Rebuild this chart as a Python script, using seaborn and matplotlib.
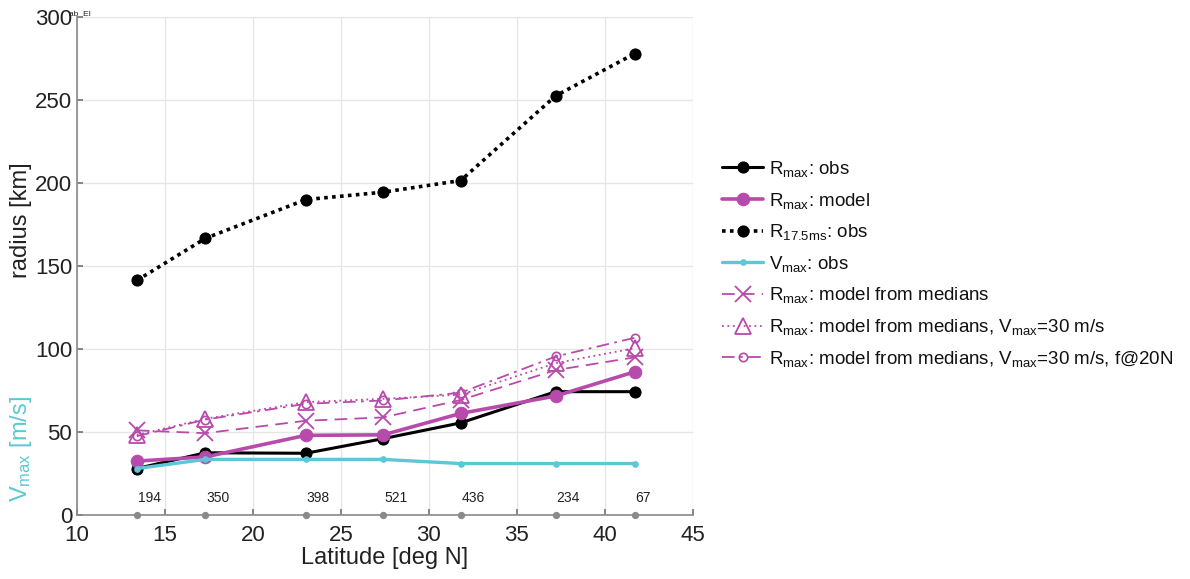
import matplotlib
matplotlib.use("Agg")
import matplotlib.pyplot as plt
import seaborn as sns
import numpy as np
import pandas as pd

# ---- data ----
latitude = [13.4, 17.3, 23.0, 27.4, 31.8, 37.2, 41.7]
rmax_obs = [28, 37.5, 37.2, 46, 55.5, 74.3, 74.3]
rmax_model = [32.5, 35, 48, 48.3, 61.2, 71.7, 86.3]
r175_obs = [141.3, 166.7, 190, 194.5, 201.5, 252.5, 278]
vmax_obs = [28, 33.5, 33.5, 33.5, 31, 31, 31]
rmax_medians = [51, 49.3, 56.8, 58.8, 69.3, 87.3, 95]
rmax_medians_v30 = [48.2, 58, 68, 70, 72.5, 91.5, 100.5]
rmax_medians_v30_f20 = [47.5, 57.5, 67, 69, 73.7, 95.5, 106.8]
bin_counts = [194, 350, 398, 521, 436, 234, 67]
x_ticks = [10, 15, 20, 25, 30, 35, 40, 45]
y_ticks = [0, 50, 100, 150, 200, 250, 300]
labels = [r'R$_{max}$: obs',
          r'R$_{max}$: model',
          r'R$_{17.5ms}$: obs',
          r'V$_{max}$: obs',
          r'R$_{max}$: model from medians',
          r'R$_{max}$: model from medians, V$_{max}$=30 m/s',
          r'R$_{max}$: model from medians, V$_{max}$=30 m/s, f@20N']

sns.set_theme(style="whitegrid")
plt.rcParams['font.family'] = ['Liberation Sans', 'DejaVu Sans']
plt.rcParams['mathtext.fontset'] = 'custom'
plt.rcParams['mathtext.rm'] = 'Liberation Sans'
plt.rcParams['mathtext.it'] = 'Liberation Sans'

MAG = '#B84AAB'
CYAN = '#5CC7D6'

fig = plt.figure(figsize=(11.9, 5.79), dpi=100)
ax = fig.add_axes([0.0647, 0.1105, 0.5176, 0.8601])

sns.lineplot(x=latitude, y=rmax_obs, ax=ax, color='black', lw=2.2, marker='o',
             markersize=8, markeredgecolor='black', legend=False)
sns.lineplot(x=latitude, y=rmax_model, ax=ax, color=MAG, lw=2.6, marker='o',
             markersize=9, markeredgecolor=MAG, legend=False)
sns.lineplot(x=latitude, y=r175_obs, ax=ax, color='black', lw=2.6, ls=(0, (1, 1.2)),
             marker='o', markersize=8, markeredgecolor='black', legend=False)
sns.lineplot(x=latitude, y=vmax_obs, ax=ax, color=CYAN, lw=2.4, marker='o',
             markersize=4, markeredgecolor=CYAN, legend=False)
sns.lineplot(x=latitude, y=rmax_medians, ax=ax, color=MAG, lw=1.3, ls=(0, (7, 4)),
             marker='x', markersize=11, markeredgecolor=MAG, markeredgewidth=1.3, legend=False)
sns.lineplot(x=latitude, y=rmax_medians_v30, ax=ax, color=MAG, lw=1.3, ls=(0, (1, 2)),
             marker='^', markersize=12, markerfacecolor='none', markeredgecolor=MAG,
             markeredgewidth=1.3, legend=False)
sns.lineplot(x=latitude, y=rmax_medians_v30_f20, ax=ax, color=MAG, lw=1.3, ls=(0, (7, 3, 1.5, 3)),
             marker='o', markersize=6, markerfacecolor='none', markeredgecolor=MAG,
             markeredgewidth=1.2, legend=False)
series_lines = list(ax.get_lines())[-7:]

# bin counts and grey dots along the axis
ax.scatter(latitude, [0] * len(latitude), s=18, color='#8a8a8a', zorder=5, clip_on=False)
for la, n in zip(latitude, bin_counts):
    ax.text(la + 0.05, 6, str(n), fontsize=10, ha='left', va='bottom', color='#222222')

ax.set_xlim(10, 45)
ax.set_ylim(0, 300)
ax.set_xticks(x_ticks)
ax.set_yticks(y_ticks)
ax.tick_params(axis='both', labelsize=16, colors='#222222', direction='in', length=4,
               left=True, bottom=True, color='#777777')
ax.tick_params(axis='x', pad=7)
ax.grid(True, color='#e6e6e6', lw=1)
for s in ['top', 'right']:
    ax.spines[s].set_visible(False)
for s in ['left', 'bottom']:
    ax.spines[s].set_color('#8a8a8a')
    ax.spines[s].set_linewidth(1.2)

ax.set_xlabel('Latitude [deg N]', fontsize=17, color='#222222', labelpad=1)
ax.set_ylabel('')
fig.text(0.018, 0.62, 'radius [km]', rotation=90, fontsize=17, color='#222222',
         ha='center', va='center')
fig.text(0.018, 0.225, r'V$_{max}$ [m/s]', rotation=90, fontsize=17, color=CYAN,
         ha='center', va='center')
fig.text(0.058, 0.975, 'ab  EI', fontsize=6, color='#222222', ha='left', va='center')

leg = ax.legend(series_lines, labels, loc='upper left', bbox_to_anchor=(1.035, 0.73),
                frameon=False, fontsize=13.5, handlelength=2.2, handletextpad=0.3,
                labelspacing=0.62, borderaxespad=0)
for t in leg.get_texts():
    t.set_color('#111111')

fig.savefig('out.png', dpi=100)
